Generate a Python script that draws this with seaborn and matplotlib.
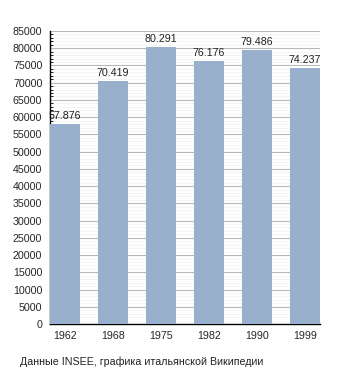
import matplotlib
matplotlib.use("Agg")
import matplotlib.pyplot as plt
import seaborn as sns
import pandas as pd
from matplotlib.ticker import MultipleLocator

years = ["1962", "1968", "1975", "1982", "1990", "1999"]
population = [57876, 70419, 80291, 76176, 79486, 74237]
labels = ["57.876", "70.419", "80.291", "76.176", "79.486", "74.237"]
caption = "Данные INSEE, графика итальянской Википедии"

sns.set_style("white")
plt.rcParams['font.family'] = ['Liberation Sans', 'DejaVu Sans']

df = pd.DataFrame({"year": years, "pop": population})

fig = plt.figure(figsize=(3.5, 3.73), dpi=100)
ax = fig.add_axes([50/350, 1-324/373, 270/350, 293/373])

sns.barplot(data=df, x="year", y="pop", color="#98b0cc", width=0.625,
            saturation=1, ax=ax, zorder=3, linewidth=0, edgecolor="none")

ax.set_xlim(-0.31, 5.31)
ax.set_ylim(0, 85000)
ax.yaxis.set_major_locator(MultipleLocator(5000))
ax.yaxis.set_minor_locator(MultipleLocator(1000))
ax.grid(which="major", axis="y", color="#b8b8b8", linewidth=0.8, zorder=0)
ax.grid(which="minor", axis="y", color="#f0f0f0", linewidth=0.5, zorder=0)
ax.set_axisbelow(True)

for s in ["top", "right"]:
    ax.spines[s].set_visible(False)
for s in ["left", "bottom"]:
    ax.spines[s].set_color("black")
    ax.spines[s].set_linewidth(1.0)

ax.tick_params(axis="y", which="major", length=5, direction="inout", labelsize=7.7, color="black", width=0.8, pad=3)
ax.tick_params(axis="y", which="minor", length=2.5, direction="in", color="black", width=0.6, left=True)
ax.tick_params(axis="x", length=0, labelsize=7.7, pad=5)
ax.set_xlabel("")
ax.set_ylabel("")

for i, (v, t) in enumerate(zip(population, labels)):
    ax.text(i, v + 900, t, ha="center", va="bottom", fontsize=7.7, color="#222222")

fig.text(20/350, 1-362/373, caption, fontsize=7.7, ha="left", va="center", color="#222222")

fig.savefig("out.png", dpi=100)
